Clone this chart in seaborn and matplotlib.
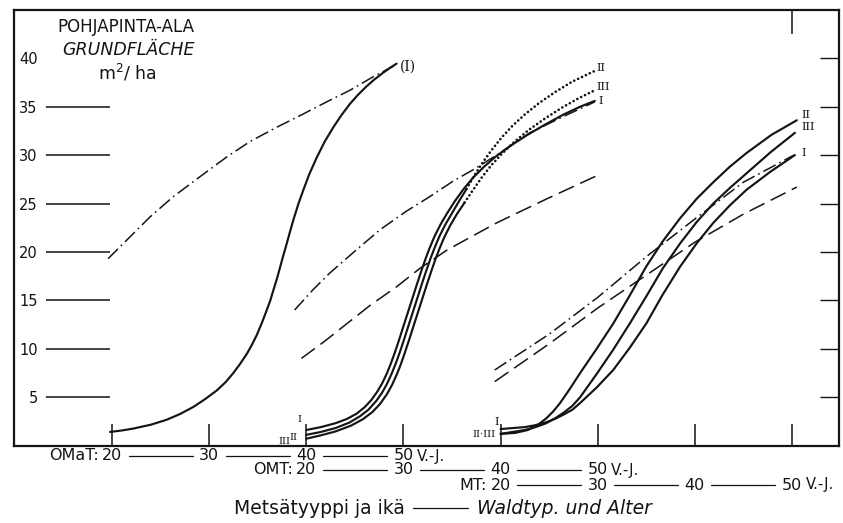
import matplotlib
matplotlib.use("Agg")
import matplotlib.pyplot as plt
import matplotlib.transforms as mtransforms
import pandas as pd
import seaborn as sns

# ---------------- data (age in years, basal area m2/ha) ----------------
# OMaT forest type
omat_age = [19.8, 21.0, 22.2, 24.0, 25.6, 27.0, 28.4, 29.6, 30.8, 31.7, 32.5, 33.2,
            33.9, 34.4, 34.9, 35.4, 35.9, 36.3, 36.6, 37.0, 37.3, 37.6, 38.0, 38.3,
            38.7, 39.2, 39.7, 40.3, 41.1, 41.9, 42.8, 43.6, 44.5, 45.3, 46.2, 47.0,
            47.9, 48.6, 49.3]
omat_ba = [1.4, 1.55, 1.75, 2.15, 2.65, 3.25, 4.0, 4.8, 5.7, 6.55, 7.5, 8.45,
           9.5, 10.4, 11.4, 12.6, 13.9, 15.0, 16.0, 17.3, 18.4, 19.5, 20.9, 22.0,
           23.4, 25.0, 26.4, 28.0, 29.8, 31.4, 32.9, 34.1, 35.3, 36.2, 37.1, 37.8,
           38.5, 39.0, 39.45]
omat_dd_age = [19.6, 22.2, 23.9, 26.3, 29.1, 31.8, 34.2, 37.0, 39.4, 42.1, 44.5, 46.9, 49.0]
omat_dd_ba = [19.3, 21.9, 23.6, 25.7, 27.8, 29.8, 31.4, 32.9, 34.1, 35.5, 36.7, 38.1, 39.2]

# OMT forest type (ages in OMT years)
omt_I_age = [20.0, 21.5, 23.0, 24.2, 25.2, 26.0, 26.7, 27.3, 27.8, 28.3, 28.7, 29.1,
             29.5, 29.9, 30.3, 30.7, 31.1, 31.5, 31.9, 32.3, 32.7, 33.2, 33.8, 34.5,
             35.3, 36.2, 37.2, 38.3, 39.5, 41.0, 42.7, 44.5, 46.5, 48.2, 49.7]
omt_I_ba = [1.6, 1.9, 2.3, 2.75, 3.3, 3.95, 4.7, 5.55, 6.4, 7.45, 8.45, 9.55,
            10.75, 12.0, 13.25, 14.5, 15.75, 17.0, 18.2, 19.35, 20.4, 21.6, 22.8, 24.0,
            25.25, 26.5, 27.7, 28.8, 29.85, 30.95, 32.05, 33.1, 34.2, 35.0, 35.6]
omt_II_age = [20.0, 21.5, 23.0, 24.4, 25.5, 26.4, 27.2, 27.8, 28.3, 28.8, 29.2, 29.6,
              30.0, 30.4, 30.8, 31.2, 31.6, 32.0, 32.4, 32.8, 33.2, 33.7, 34.3, 35.0,
              35.7, 36.5]
omt_II_ba = [1.1, 1.4, 1.8, 2.35, 3.0, 3.7, 4.6, 5.45, 6.35, 7.45, 8.45, 9.55,
             10.75, 12.0, 13.25, 14.5, 15.75, 17.0, 18.2, 19.35, 20.4, 21.6, 22.8, 24.0,
             25.2, 26.5]
omt_II_dot_age = [36.5, 37.3, 38.2, 39.1, 40.1, 41.2, 42.5, 44.0, 45.6, 47.4, 49.7]
omt_II_dot_ba = [26.5, 27.9, 29.3, 30.55, 31.8, 33.0, 34.2, 35.4, 36.5, 37.6, 38.7]
omt_III_age = [20.0, 21.5, 23.0, 24.6, 25.8, 26.8, 27.6, 28.3, 28.8, 29.3, 29.7, 30.1,
               30.5, 30.9, 31.3, 31.7, 32.1, 32.5, 32.9, 33.3, 33.7, 34.2, 34.8, 35.5,
               36.3]
omt_III_ba = [0.7, 1.05, 1.45, 2.05, 2.7, 3.45, 4.3, 5.3, 6.2, 7.3, 8.3, 9.45,
              10.65, 11.9, 13.15, 14.4, 15.65, 16.9, 18.1, 19.25, 20.3, 21.5, 22.7, 23.9,
              25.1]
omt_III_dot_age = [36.3, 37.1, 38.0, 39.0, 40.1, 41.4, 42.9, 44.6, 46.4, 48.0, 49.7]
omt_III_dot_ba = [25.1, 26.3, 27.6, 28.9, 30.1, 31.35, 32.6, 33.8, 34.95, 35.85, 36.7]
omt_dd_age = [18.8, 20.7, 22.4, 24.8, 27.6, 30.3, 32.7, 35.1, 37.2, 39.6, 43.0, 46.5, 49.7]
omt_dd_ba = [14.0, 16.1, 17.8, 19.9, 22.3, 24.2, 25.7, 27.3, 28.5, 30.0, 32.3, 34.0, 35.5]
omt_da_age = [19.5, 21.8, 24.2, 26.6, 29.3, 31.7, 34.5, 39.6, 44.8, 50.4]
omt_da_ba = [9.0, 10.7, 12.6, 14.5, 16.4, 18.3, 20.2, 23.0, 25.5, 28.1]

# MT forest type (ages in MT years)
mt_II_age = [20.0, 21.5, 22.8, 23.8, 24.7, 25.4, 26.1, 27.1, 28.2, 29.9, 31.6, 33.3,
             35.0, 36.7, 38.5, 40.2, 41.9, 43.6, 45.3, 47.9, 50.5]
mt_II_ba = [1.2, 1.3, 1.6, 2.1, 2.8, 3.5, 4.35, 5.8, 7.5, 10.0, 12.6, 15.5,
            18.5, 21.1, 23.5, 25.5, 27.2, 28.8, 30.2, 32.1, 33.6]
mt_III_age = [20.0, 22.5, 23.6, 24.7, 25.6, 26.5, 27.4, 28.2, 29.9, 31.6, 33.3, 35.0,
              36.7, 38.5, 40.2, 41.9, 43.6, 45.3, 47.8, 50.3]
mt_III_ba = [1.2, 1.6, 1.9, 2.3, 2.8, 3.4, 4.1, 5.0, 7.4, 9.9, 12.6, 15.4,
             18.3, 20.9, 23.1, 25.0, 26.6, 28.1, 30.3, 32.3]
mt_I_age = [20.0, 22.5, 23.6, 24.7, 25.6, 26.5, 27.4, 28.2, 29.9, 31.6, 33.3, 35.0,
            36.7, 38.5, 40.2, 41.9, 43.6, 45.3, 47.8, 50.3]
mt_I_ba = [1.7, 1.9, 2.1, 2.4, 2.75, 3.2, 3.7, 4.4, 6.0, 7.8, 10.1, 12.6,
           15.6, 18.5, 20.9, 23.0, 24.8, 26.4, 28.3, 30.0]
mt_dd_age = [19.4, 25.0, 30.0, 35.0, 40.0, 45.0, 50.2]
mt_dd_ba = [7.8, 11.5, 15.3, 19.5, 23.4, 27.2, 30.0]
mt_da_age = [19.4, 25.0, 30.0, 35.0, 40.0, 45.0, 50.5]
mt_da_ba = [6.6, 10.5, 14.2, 17.6, 21.0, 23.9, 26.7]

age_ticks = [20, 30, 40, 50]
ba_ticks = [5, 10, 15, 20, 25, 30, 35, 40]

# shared horizontal scale: OMT and MT age scales are shifted along the axis
OFFSETS = {"OMaT": 0, "OMT": 20, "MT": 40}

# ---------------- style ----------------
sns.set_theme(style="white")
plt.rcParams["font.family"] = ["DejaVu Sans"]
plt.rcParams["lines.scale_dashes"] = False
INK = "#141414"

W, H = 843, 523
fig = plt.figure(figsize=(W / 100, H / 100), dpi=100)
fig.patch.set_facecolor("white")
L, R, T, B = 14, 839, 10, 445.5
ax = fig.add_axes([L / W, 1 - B / H, (R - L) / W, (B - T) / H])
ax.set_facecolor("white")

SOLID = dict(color=INK, lw=1.55, solid_capstyle="round", solid_joinstyle="round")
DASHED = dict(color=INK, lw=1.1, linestyle=(0, (12, 5)))
DASHDOT = dict(color=INK, lw=1.1, linestyle=(0, (10, 3, 1.2, 3)))
DOTTED = dict(color=INK, lw=1.9, linestyle=(0, (0.1, 3.0)), dash_capstyle="round")


def curve(ages, ba, kind, style):
    df = pd.DataFrame({"x": [a + OFFSETS[kind] for a in ages], "y": ba})
    sns.lineplot(data=df, x="x", y="y", ax=ax, sort=False, estimator=None,
                 legend=False, **style)
    return df


c_omat = curve(omat_age, omat_ba, "OMaT", SOLID)
curve(omat_dd_age, omat_dd_ba, "OMaT", DASHDOT)

curve(omt_dd_age, omt_dd_ba, "OMT", DASHDOT)
curve(omt_da_age, omt_da_ba, "OMT", DASHED)
c_omt1 = curve(omt_I_age, omt_I_ba, "OMT", SOLID)
c_omt2 = curve(omt_II_age, omt_II_ba, "OMT", SOLID)
c_omt2d = curve(omt_II_dot_age, omt_II_dot_ba, "OMT", DOTTED)
c_omt3 = curve(omt_III_age, omt_III_ba, "OMT", SOLID)
c_omt3d = curve(omt_III_dot_age, omt_III_dot_ba, "OMT", DOTTED)

curve(mt_dd_age, mt_dd_ba, "MT", DASHDOT)
curve(mt_da_age, mt_da_ba, "MT", DASHED)
c_mt2 = curve(mt_II_age, mt_II_ba, "MT", SOLID)
c_mt3 = curve(mt_III_age, mt_III_ba, "MT", SOLID)
c_mt1 = curve(mt_I_age, mt_I_ba, "MT", SOLID)

x0 = 20 - (112 - L) / 9.714
x1 = 20 + (R - 112) / 9.714
ax.set_xlim(x0, x1)
ax.set_ylim(0, (B - T) / 9.68)
ax.set_xlabel("")
ax.set_ylabel("")

for s in ax.spines.values():
    s.set_visible(True)
    s.set_color(INK)
    s.set_linewidth(1.6)

xt = sorted({a + OFFSETS[k] for k in OFFSETS for a in age_ticks})
ax.set_xticks(xt)
ax.tick_params(axis="x", direction="in", length=16, width=1.1, color=INK,
               bottom=True, top=False, labelbottom=False)
ax.set_yticks(ba_ticks)
ax.set_yticklabels([str(v) for v in ba_ticks])
ax.tick_params(axis="y", direction="in", length=14, width=1.0, color=INK,
               left=False, right=True, labelleft=True, pad=-17,
               labelsize=10.5, labelcolor=INK)

# top tick
sec_top = ax.secondary_xaxis("top")
sec_top.set_xticks([age_ticks[-1] + OFFSETS["MT"]])
sec_top.tick_params(direction="in", length=17, width=1.1, color=INK, labeltop=False)
sec_top.spines["top"].set_visible(False)

# long left tick lines
sec_left = ax.secondary_yaxis((110 - L) / (R - L))
sec_left.set_yticks(ba_ticks[:-1])
sec_left.tick_params(direction="out", length=46, width=1.1, color=INK, labelleft=False)
sec_left.spines["left"].set_visible(False)

# ---------------- curve labels ----------------
SERIF = dict(family="DejaVu Serif", fontsize=8, color=INK)


def lab(df, idx, text, dx, dy, ha="left", va="center", size=8):
    r = df.iloc[idx]
    ax.annotate(text, (r["x"], r["y"]), xytext=(dx, -dy), textcoords="offset pixels",
                ha=ha, va=va, annotation_clip=False, **{**SERIF, "fontsize": size})


lab(c_omat, -1, "(I)", 3, 3, size=10)
lab(c_omt2d, -1, "II", 2, -3)
lab(c_omt3d, -1, "III", 2, -3)
lab(c_omt1, -1, "I", 4, 0)
lab(c_omt1, 0, "I", -5, -11, ha="right", size=7)
lab(c_omt2, 0, "II", -9, 3, ha="right", size=7)
lab(c_omt3, 0, "III", -16, 3, ha="right", size=7)
lab(c_mt1, 0, "I", -2, -7, ha="right", size=8)
lab(c_mt3, 0, "II·III", -5, 1, ha="right", size=7)
lab(c_mt2, -1, "II", 5, -5)
lab(c_mt3, -1, "III", 7, -6)
lab(c_mt1, -1, "I", 7, -2)

# ---------------- age scales under the axis ----------------
blend = mtransforms.blended_transform_factory(ax.transData, fig.transFigure)
ROWS = [("OMaT:", 456, "OMaT"), ("OMT:", 470, "OMT"), ("MT:", 485, "MT")]
GAP = 1.7
for name, ypx, kind in ROWS:
    yf = 1 - ypx / H
    pos = [a + OFFSETS[kind] for a in age_ticks]
    ax.text(pos[0] - 1.4, yf, name, transform=blend, ha="right", va="center",
            fontsize=11.5, color=INK)
    for i, (p, a) in enumerate(zip(pos, age_ticks)):
        ax.text(p, yf, str(a), transform=blend, ha="center", va="center",
                fontsize=11.5, color=INK)
        if i < len(pos) - 1:
            ax.plot([p + GAP, pos[i + 1] - GAP], [yf, yf], transform=blend,
                    color=INK, lw=0.9, clip_on=False)
    ax.text(pos[-1] + 1.4, yf, "V.-J.", transform=blend, ha="left", va="center",
            fontsize=10.5, color=INK)

# ---------------- titles ----------------
fig.text(126 / W, 1 - 27 / H, "POHJAPINTA-ALA", ha="center", va="center",
         fontsize=12, color=INK)
fig.text(128 / W, 1 - 50 / H, "GRUNDFLÄCHE", ha="center", va="center",
         fontsize=12.5, style="italic", color=INK)
fig.text(127 / W, 1 - 73 / H, r"m$^{2}$/ ha", ha="center", va="center",
         fontsize=12.5, color=INK)

fig.text(405 / W, 1 - 508 / H, "Metsätyyppi ja ikä", ha="right", va="center",
         fontsize=13.5, color=INK)
fig.add_artist(plt.Line2D([413 / W, 468 / W], [1 - 508 / H, 1 - 508 / H],
                          color=INK, lw=0.9))
fig.text(477 / W, 1 - 508 / H, "Waldtyp. und Alter", ha="left", va="center",
         fontsize=13.5, style="italic", color=INK)

fig.savefig("out.png", dpi=100, facecolor="white")
